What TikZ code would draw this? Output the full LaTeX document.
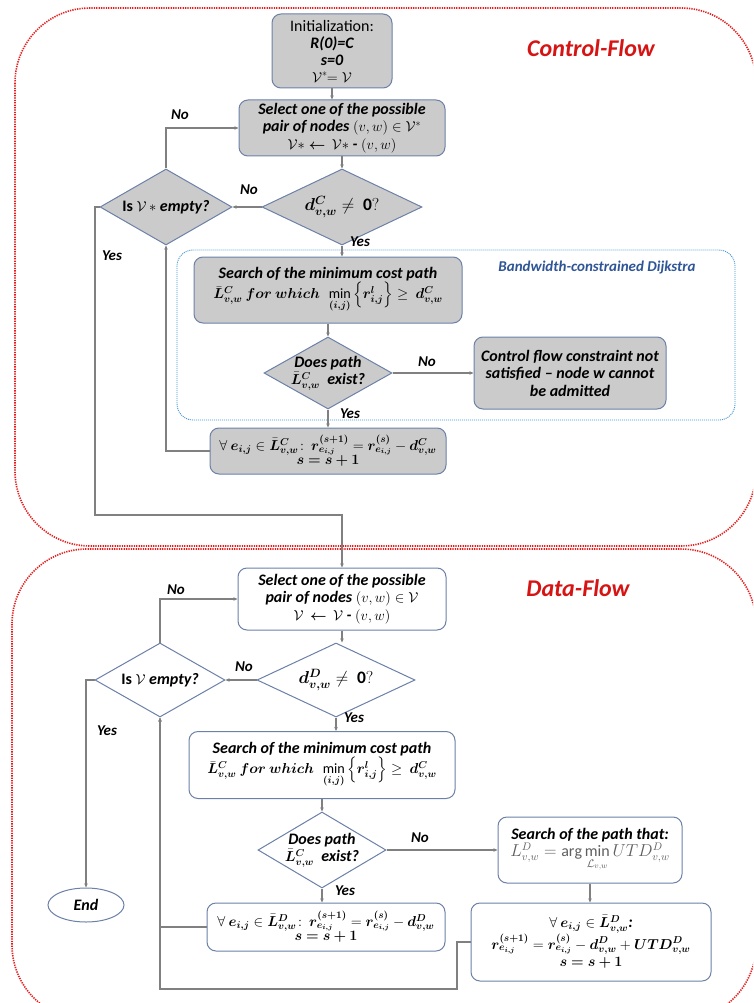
\documentclass[tikz,border=0pt]{standalone}
\usepackage{amsmath}
\usepackage{bm}
\usepackage{fontspec}
\setmainfont{Carlito}
\usetikzlibrary{shapes.geometric,arrows.meta}
\definecolor{gfill}{RGB}{203,203,203}
\definecolor{bd}{RGB}{108,128,168}
\definecolor{ln}{RGB}{128,128,128}
\definecolor{rd}{RGB}{230,30,30}
\definecolor{tr}{RGB}{215,20,20}
\definecolor{bl}{RGB}{70,150,210}
\definecolor{bt}{RGB}{47,85,151}
\definecolor{mg}{RGB}{95,95,95}
\newcommand\mth[1]{{\fontsize{14.2}{17}\selectfont$#1$}}
\newcommand\bigmth[1]{{\fontsize{17.5}{19}\selectfont$#1$}}
\begin{document}
\begin{tikzpicture}[x=1pt,y=-1pt,
 base/.style={font=\fontsize{16}{17.5}\selectfont\bfseries\itshape, align=center, inner sep=2pt},
 gbox/.style={base, draw=bd, fill=gfill, line width=1pt, rounded corners=9pt},
 wbox/.style={base, draw=bd, fill=white, line width=1pt, rounded corners=9pt},
 gdia/.style={base, diamond, draw=bd, fill=gfill, line width=1pt, inner sep=0pt},
 wdia/.style={base, diamond, draw=bd, fill=white, line width=1pt, inner sep=0pt},
 conn/.style={draw=ln, line width=1.1pt, -{Stealth[length=4pt,width=3.5pt]}},
 lab/.style={font=\fontsize{15}{16}\selectfont\bfseries\itshape, inner sep=0pt},
 region/.style={draw=rd, line width=1.6pt, dash pattern=on 1.3pt off 1.1pt, rounded corners=75pt},
 ttl/.style={font=\fontsize{24}{26}\selectfont\bfseries\itshape, text=tr, inner sep=0pt}
]
\useasboundingbox (0,0) rectangle (753,1003);
\clip (0,0) rectangle (753,1003);
\fill[white] (0,0) rectangle (753,1003);
% regions
\draw[region] (15,8) rectangle (756,546);
\draw[region] (12,549) rectangle (756,1020);
\node[ttl] (tcf) at (591,48) {Control-Flow};
\node[ttl] (tdf) at (578,588) {Data-Flow};
% Dijkstra box
\draw[draw=bl, line width=0.9pt, dash pattern=on 1pt off 1pt, rounded corners=16pt] (177,250) rectangle (735,420);
\node[font=\fontsize{15}{17}\selectfont\bfseries\itshape, text=bt, inner sep=0pt] (dij) at (597,268) {Bandwidth-constrained Dijkstra};
% control flow nodes
\node[gbox, font=\fontsize{16}{17}\selectfont\bfseries\itshape, minimum width=120, minimum height=74] (init) at (332,51) {{\mdseries\upshape Initialization:}\\ R(0)=C\\ s=0\\ \mth{\mathcal{V}^{*}\!\!=\mathcal{V}}};
\node[gbox, minimum width=206, minimum height=56] (sel1) at (342,128) {Select one of the possible\\ pair of nodes \mth{(v,w)\in\mathcal{V}^{*}}\\ \mth{\mathcal{V}{*}\bm{\leftarrow}\,\mathcal{V}{*}} - \mth{(v,w)}};
\node[gdia, aspect=2.1, minimum width=160, minimum height=76] (d1) at (342,207) {\bigmth{\bm{d^{C}_{v,w}}\neq\ \mathbf{0}?}};
\node[gdia, aspect=1.74, minimum width=132, minimum height=76] (e1) at (166,207) {{\upshape Is} \mth{\mathcal{V}\,{*}} empty?};
\node[gbox, minimum width=268, minimum height=66] (s1) at (328,290) {Search of the minimum cost path\\ \mth{\bar{\bm L}^{\bm C}_{\bm{v,w}}\ \bm{for\ which}\ \ \min\limits_{\bm{(i,j)}}\Big\{\bm{r^{l}_{i,j}}\Big\}\geq\ \bm{d^{C}_{v,w}}}};
\node[gdia, aspect=1.78, inner sep=-3.5pt, minimum width=128, minimum height=72] (p1) at (328,373) {Does path\\ \mth{\bar{\bm L}^{\bm C}_{\bm{v,w}}}\ \ exist?};
\node[gbox, minimum width=192, minimum height=72] (ctrl) at (570,373) {Control flow constraint not\\ satisfied -- node w cannot\\ be admitted};
\node[gbox, minimum width=236, minimum height=46] (u1) at (328,451) {\mth{\forall\ \bm{e_{i,j}}\in\bar{\bm L}^{\bm C}_{\bm{v,w}}\!:\ \bm{r^{(s+1)}_{e_{i,j}}}=\bm{r^{(s)}_{e_{i,j}}}-\bm{d^{C}_{v,w}}}\\[-3pt] \mth{\bm{s=s+1}}};
% data flow nodes
\node[wbox, minimum width=208, minimum height=62] (sel2) at (342,599) {Select one of the possible\\ pair of nodes \mth{(v,w)\in\mathcal{V}}\\ \mth{\mathcal{V}\,\bm{\leftarrow}\,\mathcal{V}} - \mth{(v,w)}};
\node[wdia, aspect=2.13, minimum width=158, minimum height=74] (d2) at (336,680) {\bigmth{\bm{d^{D}_{v,w}}\neq\ \mathbf{0}?}};
\node[wdia, aspect=1.76, minimum width=130, minimum height=74] (e2) at (160,680) {{\upshape Is} \mth{\mathcal{V}} empty?};
\node[wbox, minimum width=266, minimum height=67] (s2) at (322,765) {Search of the minimum cost path\\ \mth{\bar{\bm L}^{\bm C}_{\bm{v,w}}\ \bm{for\ which}\ \ \min\limits_{\bm{(i,j)}}\Big\{\bm{r^{l}_{i,j}}\Big\}\geq\ \bm{d^{C}_{v,w}}}};
\node[wdia, aspect=1.68, inner sep=-3pt, minimum width=128, minimum height=76] (p2) at (322,850) {Does path\\ \mth{\bar{\bm L}^{\bm C}_{\bm{v,w}}}\ \ exist?};
\node[wbox, minimum width=184, minimum height=66] (s3) at (590,850) {Search of the path that:\\ \color{mg}{\fontsize{16}{18}\selectfont$L^{D}_{v,w}=\arg\min\limits_{\mathcal{L}_{v,w}} UTD^{D}_{v,w}$}};
\node[wbox, minimum width=238, minimum height=48] (u2) at (326,927) {\mth{\forall\ \bm{e_{i,j}}\in\bar{\bm L}^{\bm D}_{\bm{v,w}}\!:\ \bm{r^{(s+1)}_{e_{i,j}}}=\bm{r^{(s)}_{e_{i,j}}}-\bm{d^{D}_{v,w}}}\\[-3pt] \mth{\bm{s=s+1}}};
\node[wbox, minimum width=240, minimum height=78] (u3) at (591,942) {\mth{\forall\ \bm{e_{i,j}}\in\bar{\bm L}^{\bm D}_{\bm{v,w}}}:\\ \mth{\bm{r^{(s+1)}_{e_{i,j}}}=\bm{r^{(s)}_{e_{i,j}}}-\bm{d^{D}_{v,w}}+\bm{UTD^{D}_{v,w}}}\\ \mth{\bm{s=s+1}}};
\node[base, ellipse, draw=bd, fill=white, line width=1pt, minimum width=76, minimum height=34, inner sep=0pt] (end) at (86,905) {End};
% coordinates
\coordinate (j1) at (95,515);
\coordinate (j3) at (457,989);
% control connectors
\draw[conn] (init.south) -- (init.south |- sel1.north);
\draw[conn] (sel1.south) -- (sel1.south |- d1.north);
\draw[conn] (d1.west) -- (e1.east);
\draw[conn] (e1.north) |- (sel1.west);
\draw[conn] (e1.west) -| (j1) -| (sel2.north);
\draw[conn] (d1.south) -- (d1.south |- s1.north);
\draw[conn] (s1.south) -- (s1.south |- p1.north);
\draw[conn] (p1.east) -- (ctrl.west);
\draw[conn] (p1.south) -- (p1.south |- u1.north);
\draw[conn] (u1.west) -| (e1.south);
% data connectors
\draw[conn] (sel2.south) -- (sel2.south |- d2.north);
\draw[conn] (d2.west) -- (e2.east);
\draw[conn] (e2.north) |- (sel2.west);
\draw[conn] (e2.west) -| (end.north);
\draw[conn] (d2.south) -- (d2.south |- s2.north);
\draw[conn] (s2.south) -- (s2.south |- p2.north);
\draw[conn] (p2.east) -- (s3.west);
\draw[conn] (p2.south) -- (p2.south |- u2.north);
\draw[conn] (s3.south) -- (s3.south |- u3.north);
\draw[conn] (u2.west) -| (e2.south);
\draw[conn] (u3.west) -| (j3) -| (e2.south);
% labels
\node[lab] (l1) at (180,115) {No};
\node[lab] (l2) at (249,190) {No};
\node[lab] (l3) at (112,256) {Yes};
\node[lab] (l4) at (360,242) {Yes};
\node[lab] (l5) at (427,362) {No};
\node[lab] (l6) at (350,414) {Yes};
\node[lab] (l7) at (176,590) {No};
\node[lab] (l8) at (244,667) {No};
\node[lab] (l9) at (107,731) {Yes};
\node[lab] (l10) at (354,718) {Yes};
\node[lab] (l11) at (420,838) {No};
\node[lab] (l12) at (345,891) {Yes};
\end{tikzpicture}
\end{document}
